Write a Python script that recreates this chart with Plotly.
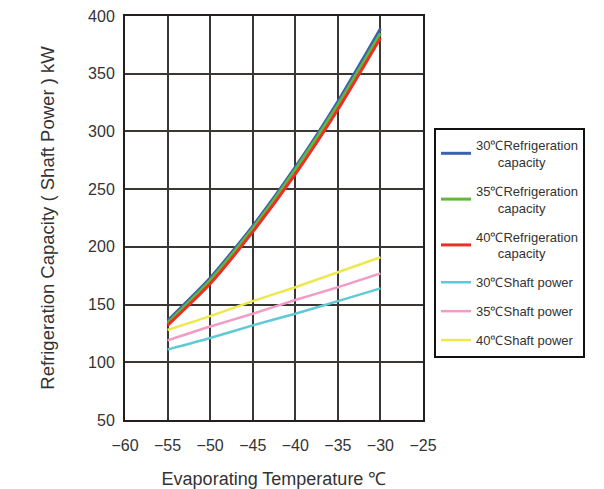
import plotly.graph_objects as go

temps = [-55, -50, -45, -40, -35, -30]
cap_30 = [136, 173, 218, 269, 326, 389]
cap_35 = [134, 171, 216, 267, 323, 385]
cap_40 = [132, 168, 213, 263, 319, 381]
shaft_30 = [111, 121, 132, 142, 153, 164]
shaft_35 = [119, 131, 142, 154, 165, 177]
shaft_40 = [128, 140, 153, 165, 178, 191]

names = ["30℃Refrigeration<br>      capacity", "35℃Refrigeration<br>      capacity", "40℃Refrigeration<br>      capacity",
         "30℃Shaft power", "35℃Shaft power", "40℃Shaft power"]
series = [cap_30, cap_35, cap_40, shaft_30, shaft_35, shaft_40]
colors = ["#3c62ad", "#5dba3c", "#ee2e24", "#5fcad6", "#f29cc3", "#ede84b"]
widths = [3, 3, 3, 2.5, 2.5, 2.5]

fig = go.Figure()
for i, (n, s, c, w) in enumerate(zip(names, series, colors, widths)):
    fig.add_trace(go.Scatter(x=temps, y=s, mode="lines", name=n, legendgroup=str(i),
                             line=dict(color=c, width=w, shape="spline", smoothing=0.6)))

axis_common = dict(showgrid=True, gridcolor="#3a3634", gridwidth=1.5, showline=True,
                   linecolor="#231f20", linewidth=2, mirror=True, ticks="", zeroline=False,
                   automargin=False,
                   tickfont=dict(family="Liberation Sans", size=16, color="#333333"))
fig.update_xaxes(range=[-60, -25], tickvals=[-60, -55, -50, -45, -40, -35, -30, -25],
                 ticktext=["−60", "−55", "−50", "−45", "−40", "−35", "−30", "−25"],
                 ticklabelstandoff=10,
                 title=dict(text="Evaporating Temperature ℃", font=dict(family="Liberation Sans", size=18, color="#333333"), standoff=24),
                 **axis_common)
fig.update_yaxes(range=[50, 400], dtick=50, ticklabelstandoff=5,
                 title=dict(text="Refrigeration Capacity ( Shaft Power ) kW", font=dict(family="Liberation Sans", size=18.5, color="#333333"), standoff=29),
                 **axis_common)

fig.update_layout(
    width=604, height=489,
    margin=dict(l=125, r=181, t=16, b=69, autoexpand=False),
    plot_bgcolor="white", paper_bgcolor="white",
    legend=dict(x=1.037, y=0.723, xanchor="left", yanchor="top",
                bordercolor="#111111", borderwidth=2, bgcolor="white",
                font=dict(family="Liberation Sans", size=13, color="#333333"),
                tracegroupgap=9, itemwidth=30),
)

fig.write_html("out.html", config={"displayModeBar": False},
               post_script="document.body.style.margin='0';document.body.style.overflow='hidden';")
